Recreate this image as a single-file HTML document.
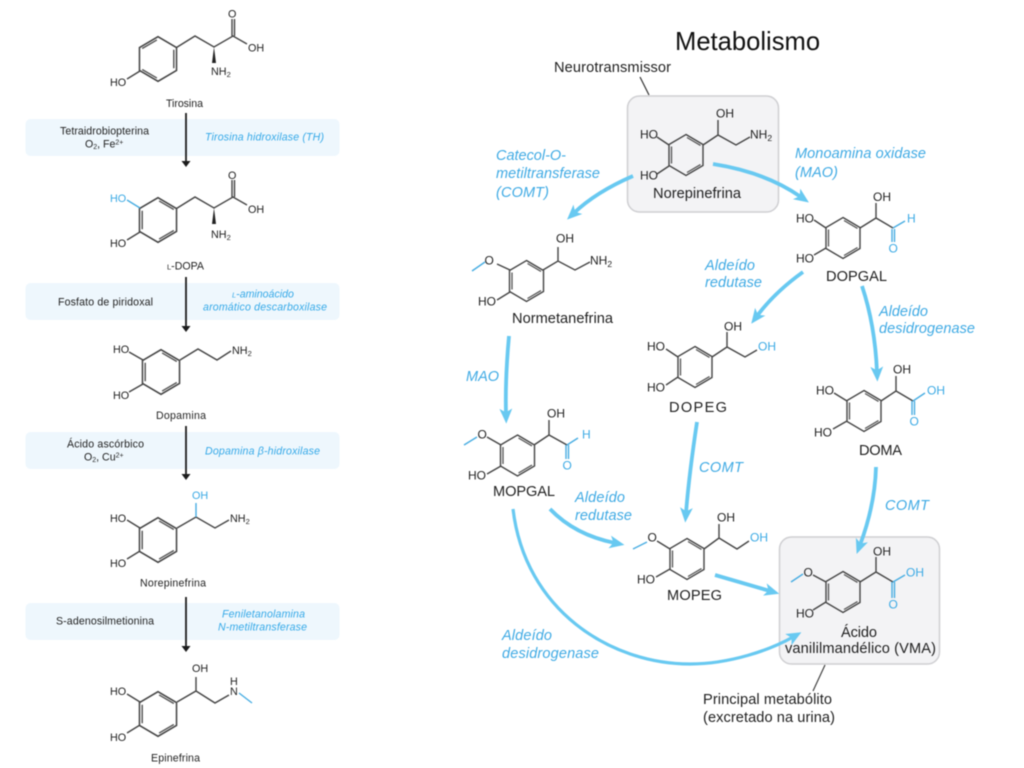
<!DOCTYPE html>
<html lang="pt">
<head>
<meta charset="utf-8">
<title>Metabolismo</title>
<style>
html,body{margin:0;padding:0;background:#fff;width:1024px;height:768px;overflow:hidden}
svg{display:block;filter:blur(0.4px)}
text{font-family:"Liberation Sans",sans-serif;fill:#1f1f1f}
.a{font-size:10.8px}
.l{font-size:10.6px}
.r{font-size:12px}
.n{font-size:14.6px}
.ib{font-style:italic;fill:#3faae4;font-size:14.5px}
.il{font-style:italic;fill:#35a9e8;font-size:10.6px}
.b{fill:#3aa9e4}
.bond{fill:none;stroke:#444;stroke-width:1.4}
.bb{fill:none;stroke:#48ade2;stroke-width:1.4}
.ar{fill:none;stroke:#68c9f1;stroke-width:3.8}
.db{fill:none;stroke:#555;stroke-width:1.3}
</style>
</head>
<body>
<svg width="1024" height="768" viewBox="0 0 1024 768" xmlns="http://www.w3.org/2000/svg">
<defs>
<marker id="h" markerUnits="userSpaceOnUse" markerWidth="15" markerHeight="15" viewBox="0 0 14 14" refX="5" refY="7" orient="auto">
<path d="M14,7 L0,1 L3.500,7 L0,13 Z" fill="#68c9f1"/>
</marker>
<g id="cat">
<path class="bond" d="M0,-20.500 L17,-10.500 L17,10.500 L0,20.500 L-17,10.500 L-17,-10.500 Z"/>
<path class="db" d="M1,-17.500 L14.500,-9.600 M-14.500,-8.500 V8.500 M1,17.500 L14.500,9.600"/>
</g>
<g id="tyr">
<path class="bond" d="M0,-20.500 L17,-10.500 L17,10.500 L0,20.500 L-17,10.500 L-17,-10.500 Z"/>
<path class="db" d="M-1,-17.500 L-14.500,-9.600 M14.500,-8.500 V8.500 M-1,17.500 L-14.500,9.600"/>
</g>
</defs>

<!-- LEFT PANELS -->
<g fill="#eef7fd">
<rect x="25.500" y="119" width="314" height="37" rx="5"/>
<rect x="25.500" y="283" width="314" height="37" rx="5"/>
<rect x="25.500" y="432" width="314" height="37" rx="5"/>
<rect x="25.500" y="603" width="314" height="37" rx="5"/>
</g>
<g fill="none" stroke="#1c1c1c" stroke-width="1.800">
<path d="M186,113 V161"/><path d="M186,277 V326"/><path d="M186,426 V474"/><path d="M186,597 V646"/>
</g>
<g fill="#1c1c1c">
<path d="M181.500,161 H190.500 L186,167 Z"/><path d="M181.500,326 H190.500 L186,332 Z"/><path d="M181.500,474 H190.500 L186,480 Z"/><path d="M181.500,646 H190.500 L186,652 Z"/>
</g>

<!-- Left molecule rings -->
<use href="#tyr" transform="translate(158,59) scale(1.09)"/>
<use href="#cat" transform="translate(158,220) scale(1.09)"/>
<use href="#cat" transform="translate(161,372) scale(1.09)"/>
<use href="#cat" transform="translate(158,540) scale(1.09)"/>
<use href="#cat" transform="translate(158,714) scale(1.09)"/>

<!-- Tirosina -->
<path class="bond" d="M176.500,47.500 L195,36 L214,47 L233,36 L247,44 M232,36 V19 M234.500,36 V19 M140,71 L127,79"/>
<path d="M214,47 L212,63 H216 Z" fill="#222"/>
<text class="a" x="228" y="17.500">O</text>
<text class="a" x="248" y="51.500">OH</text>
<text class="a" x="211" y="75">NH<tspan font-size="7.500" dy="2">2</tspan></text>
<text class="a" x="110" y="86">HO</text>
<text class="l" x="166" y="107" textLength="37">Tirosina</text>

<!-- Panel 1 text -->
<text class="l" x="60" y="134.500" textLength="89">Tetraidrobiopterina</text>
<text class="l" x="85" y="147.500">O<tspan font-size="7" dy="1.500">2</tspan><tspan dy="-1.500">, Fe</tspan><tspan font-size="7" dy="-3">2+</tspan></text>
<text class="il" x="205" y="140.500" textLength="119">Tirosina hidroxilase (TH)</text>

<!-- L-DOPA -->
<path class="bond" d="M176.500,208.500 L195,197 L214,208 L233,197 L247,205 M232,197 V180 M234.500,197 V180 M140,232 L127,240"/>
<path class="bb" d="M140,208 L127,200"/>
<path d="M214,208 L212,224 H216 Z" fill="#222"/>
<text class="a" x="228" y="179">O</text>
<text class="a" x="248" y="213">OH</text>
<text class="a" x="211" y="238">NH<tspan font-size="7.500" dy="2">2</tspan></text>
<text class="a b" x="110" y="202">HO</text>
<text class="a" x="110" y="247">HO</text>
<text class="l" x="167" y="269.500"><tspan font-size="7.500">L</tspan>-DOPA</text>

<!-- Panel 2 text -->
<text class="l" x="58" y="305.500" textLength="95">Fosfato de piridoxal</text>
<text class="il" x="232" y="297.500"><tspan font-size="7.500">L</tspan>-aminoácido</text>
<text class="il" x="203" y="310.500" textLength="124">aromático descarboxilase</text>

<!-- Dopamina -->
<path class="bond" d="M180,360 L198,349 L217,360 L231,351 M143,360 L129,352 M143,384 L129,392"/>
<text class="a" x="232" y="354">NH<tspan font-size="7.500" dy="2">2</tspan></text>
<text class="a" x="113" y="353">HO</text>
<text class="a" x="113" y="399">HO</text>
<text class="l" x="156" y="419" textLength="50">Dopamina</text>

<!-- Panel 3 text -->
<text class="l" x="67" y="447.500" textLength="77">Ácido ascórbico</text>
<text class="l" x="84" y="460.500">O<tspan font-size="7" dy="1.500">2</tspan><tspan dy="-1.500">, Cu</tspan><tspan font-size="7" dy="-3">2+</tspan></text>
<text class="il" x="205" y="454.500" textLength="115">Dopamina β-hidroxilase</text>

<!-- Norepinefrina left -->
<path class="bond" d="M177,528 L196,517 L215,528 L229,520 M140,528 L127,520 M140,551 L127,559"/>
<path class="bb" d="M196,517 V503"/>
<text class="a b" x="192" y="499">OH</text>
<text class="a" x="230" y="522">NH<tspan font-size="7.500" dy="2">2</tspan></text>
<text class="a" x="110" y="522">HO</text>
<text class="a" x="110" y="567">HO</text>
<text class="l" x="140" y="586.500" textLength="66">Norepinefrina</text>

<!-- Panel 4 text -->
<text class="l" x="56" y="624.500" textLength="98">S-adenosilmetionina</text>
<text class="il" x="222" y="617.500" textLength="83">Feniletanolamina</text>
<text class="il" x="218" y="630.500" textLength="89">N-metiltransferase</text>

<!-- Epinefrina -->
<path class="bond" d="M177,702 L196,691 L215,703 L229,695 M196,691 V677 M140,702 L127,694 M140,725 L127,733"/>
<path class="bb" d="M239,693 L252,703"/>
<text class="a" x="192" y="672">OH</text>
<text class="a" x="230" y="685">H</text>
<text class="a" x="230" y="695">N</text>
<text class="a" x="110" y="695">HO</text>
<text class="a" x="110" y="741">HO</text>
<text class="l" x="151" y="761.500" textLength="49">Epinefrina</text>

<!-- RIGHT -->
<text x="675" y="50" font-size="25.600" style="fill:#111">Metabolismo</text>
<text class="n" x="554" y="72" textLength="117">Neurotransmissor</text>
<path d="M640,77 L649,95" fill="none" stroke="#333" stroke-width="1.200"/>
<rect x="627.500" y="96" width="151" height="116" rx="12" fill="#f3f3f5" stroke="#cfcfd2" stroke-width="1.500"/>
<rect x="779.500" y="537" width="160" height="127" rx="12" fill="#f3f3f5" stroke="#cfcfd2" stroke-width="1.500"/>
<path d="M825,665 L813,691" fill="none" stroke="#444" stroke-width="1.200"/>

<!-- Rings -->
<use href="#cat" transform="translate(686,155)"/>
<use href="#cat" transform="translate(843,238)"/>
<use href="#cat" transform="translate(526.500,281)"/>
<use href="#cat" transform="translate(695,367)"/>
<use href="#cat" transform="translate(864,411)"/>
<use href="#cat" transform="translate(517.500,455.500)"/>
<use href="#cat" transform="translate(687,559)"/>
<use href="#cat" transform="translate(843,592)"/>

<!-- Norepinefrina box -->
<path class="bond" d="M703,145 L718,135 L736,145 L750,137 M718,135 V120 M669,145 L657,137 M669,166 L657,174"/>
<text class="r" x="640" y="138.500">HO</text>
<text class="r" x="640" y="179.500">HO</text>
<text class="r" x="716" y="117.500">OH</text>
<text class="r" x="750" y="138.500">NH<tspan font-size="8.500" dy="2.500">2</tspan></text>
<text class="n" x="653" y="198" textLength="88">Norepinefrina</text>

<!-- DOPGAL -->
<path class="bond" d="M860,228 L876,218 L893,228 M876,218 V203 M826,228 L814,220 M826,248 L814,255"/>
<path class="bb" d="M893,228 L905,221 M892,229 V242 M894.500,229 V242"/>
<text class="r" x="873" y="201">OH</text>
<text class="r b" x="907" y="222.500">H</text>
<text class="r b" x="888.500" y="252.500">O</text>
<text class="r" x="796" y="222.500">HO</text>
<text class="r" x="796" y="262.500">HO</text>
<text class="n" x="826" y="281" textLength="61">DOPGAL</text>

<!-- Normetanefrina -->
<path class="bond" d="M543,270 L558,261 L575,270 L590,262 M558,261 V247 M510,270 L497,264 M510,292 L497,300"/>
<path class="bb" d="M472,271 L485,262"/>
<text class="r" x="556" y="242.500">OH</text>
<text class="r" x="590" y="264.500">NH<tspan font-size="8.500" dy="2.500">2</tspan></text>
<text class="r" x="484.500" y="264.500">O</text>
<text class="r" x="478" y="305.500">HO</text>
<text class="n" x="512" y="323" textLength="101">Normetanefrina</text>

<!-- MOPGAL -->
<path class="bond" d="M534,445 L549,435 L567,445 M549,435 V420 M501,445 L487,437 M501,466 L487,474"/>
<path class="bb" d="M464,445 L477,437 M567,445 L578,438 M566,445 V459 M568.500,445 V459"/>
<text class="r" x="547" y="417.500">OH</text>
<text class="r b" x="582" y="438.500">H</text>
<text class="r b" x="562.500" y="469.500">O</text>
<text class="r" x="477.500" y="438.500">O</text>
<text class="r" x="468" y="479.500">HO</text>
<text class="n" x="493" y="496" textLength="62">MOPGAL</text>

<!-- DOPEG -->
<path class="bond" d="M712,357 L727,347 L745,357 L757,350 M727,347 V332 M678,357 L666,349 M678,377 L666,385"/>
<text class="r" x="724" y="330.500">OH</text>
<text class="r b" x="758" y="350.500">OH</text>
<text class="r" x="647" y="350.500">HO</text>
<text class="r" x="647" y="391.500">HO</text>
<text class="n" x="669" y="412" textLength="58">DOPEG</text>

<!-- DOMA -->
<path class="bond" d="M881,401 L896,391 L913,401 M896,391 V376 M847,401 L834,393 M847,421 L833,429"/>
<path class="bb" d="M913,401 L925,393 M912,401 V415 M914.500,401 V415"/>
<text class="r" x="893" y="373.500">OH</text>
<text class="r b" x="927" y="394.500">OH</text>
<text class="r b" x="909.500" y="425.500">O</text>
<text class="r" x="816" y="394.500">HO</text>
<text class="r" x="814" y="436.500">HO</text>
<text class="n" x="859" y="455" textLength="43">DOMA</text>

<!-- MOPEG -->
<path class="bond" d="M704,549 L719,538 L737,549 L749,541 M719,538 V524 M670,549 L657,541 M670,569 L656,577"/>
<path class="bb" d="M633,549 L647,542"/>
<text class="r" x="717" y="521.500">OH</text>
<text class="r b" x="750" y="541.500">OH</text>
<text class="r" x="647.500" y="541.500">O</text>
<text class="r" x="637" y="583.500">HO</text>
<text class="n" x="667" y="600" textLength="55">MOPEG</text>

<!-- VMA -->
<path class="bond" d="M860,582 L876,572 L893,582 M876,572 V557 M826,582 L813,575 M826,602 L813,610"/>
<path class="bb" d="M791,582 L803,574 M893,582 L905,575 M892,582 V598 M894.500,582 V598"/>
<text class="r" x="873" y="555.500">OH</text>
<text class="r b" x="906" y="576.500">OH</text>
<text class="r b" x="888.500" y="608.500">O</text>
<text class="r" x="803.500" y="576.500">O</text>
<text class="r" x="796" y="617.500">HO</text>
<text class="n" x="841" y="637" textLength="36">Ácido</text>
<text class="n" x="785" y="653" textLength="151">vanililmandélico (VMA)</text>

<!-- Labels -->
<text class="n" x="703" y="704" textLength="129">Principal metabólito</text>
<text class="n" x="703" y="722" textLength="132">(excretado na urina)</text>

<text class="ib" x="496" y="160" textLength="70">Catecol-O-</text>
<text class="ib" x="496" y="178" textLength="104">metiltransferase</text>
<text class="ib" x="496" y="197" textLength="53">(COMT)</text>
<text class="ib" x="795" y="158" textLength="131">Monoamina oxidase</text>
<text class="ib" x="795" y="177" textLength="43">(MAO)</text>
<text class="ib" x="705" y="270" textLength="50">Aldeído</text>
<text class="ib" x="705" y="287" textLength="57">redutase</text>
<text class="ib" x="879" y="316" textLength="49">Aldeído</text>
<text class="ib" x="879" y="333" textLength="96">desidrogenase</text>
<text class="ib" x="466" y="381" textLength="33">MAO</text>
<text class="ib" x="699" y="472" textLength="44">COMT</text>
<text class="ib" x="885" y="510" textLength="44">COMT</text>
<text class="ib" x="575" y="502" textLength="50">Aldeído</text>
<text class="ib" x="575" y="520" textLength="57">redutase</text>
<text class="ib" x="502" y="640" textLength="50">Aldeído</text>
<text class="ib" x="502" y="658" textLength="97">desidrogenase</text>

<!-- Arrows -->
<path class="ar" marker-end="url(#h)" d="M633,176 Q596,192 574,213"/>
<path class="ar" marker-end="url(#h)" d="M713,164 Q765,172 801,197"/>
<path class="ar" marker-end="url(#h)" d="M803,272 Q775,292 757,316"/>
<path class="ar" marker-end="url(#h)" d="M862,286 Q875,325 877,372"/>
<path class="ar" marker-end="url(#h)" d="M509,336 Q505,380 506,414"/>
<path class="ar" marker-end="url(#h)" d="M697,422 Q689,475 686,513"/>
<path class="ar" marker-end="url(#h)" d="M876,467 Q875,505 860,545"/>
<path class="ar" marker-end="url(#h)" d="M550,509 Q575,535 615,543"/>
<path class="ar" marker-end="url(#h)" d="M715,575 L770,591"/>
<path class="ar" style="stroke-width:3.200" marker-end="url(#h)" d="M513,509 C525,610 610,664 690,664 C730,664 770,650 793,637"/>
</svg>
</body>
</html>
